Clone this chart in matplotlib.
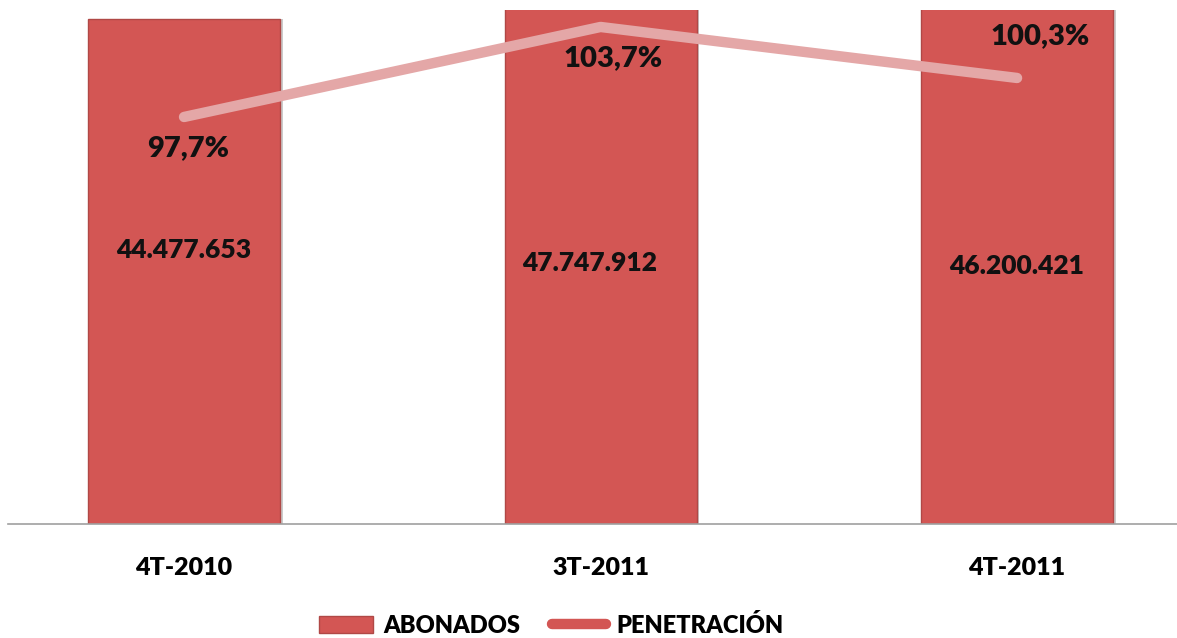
import numpy as np
import matplotlib.pyplot as plt
from matplotlib.patches import Patch
from matplotlib.lines import Line2D

plt.rcParams['font.family'] = ['Lato', 'DejaVu Sans']

# Data
periods = ['4T-2010', '3T-2011', '4T-2011']
abonados = [44477653, 47747912, 46200421]
penetracion = [97.7, 103.7, 100.3]
abonados_labels = ['44.477.653', '47.747.912', '46.200.421']
penetracion_labels = ['97,7%', '103,7%', '100,3%']

bar_color = '#D35654'
line_color = '#E4A7A7'

fig = plt.figure(figsize=(11.77, 6.38), dpi=100)
ax = fig.add_axes([0.0068, 0.1787, 0.9932, 0.8056])

x = np.arange(len(periods))
# soft shadow behind the bars
ax.bar(x + 0.006, abonados, width=0.461, color='#999999', alpha=0.5, zorder=1)
bars = ax.bar(x, abonados, width=0.461, color=bar_color, edgecolor='#B04846',
              linewidth=1.0, zorder=2)

ax.set_xlim(-0.4226, 2.384)
ax.set_ylim(0, 45.27e6)

# value labels inside the bars
label_y = [24.1e6, 23.0e6, 22.7e6]
label_dx = [0.0, -0.027, 0.0]
for xi, lab, ly, dx in zip(x, abonados_labels, label_y, label_dx):
    ax.text(xi + dx, ly, lab, ha='center', va='center', fontsize=19,
            fontweight='heavy', color='#111111', zorder=5)

for s in ['top', 'right', 'left']:
    ax.spines[s].set_visible(False)
ax.spines['bottom'].set_color('#A0A0A0')
ax.spines['bottom'].set_linewidth(1.2)
ax.set_yticks([])
ax.set_xticks(x)
ax.set_xticklabels(periods, fontsize=18, fontweight='heavy')
ax.tick_params(axis='x', length=0, pad=24)

# secondary axis for penetration line
ax2 = ax.twinx()
ax2.set_ylim(70.57, 104.83)
ax2.plot(x, penetracion, color=line_color, linewidth=7.5, solid_capstyle='round',
         zorder=3)
ax2.set_yticks([])
for s in ax2.spines.values():
    s.set_visible(False)

offsets = [(0.01, -2.07), (0.029, -2.07), (0.055, 2.8)]
for xi, v, lab, (dx, dy) in zip(x, penetracion, penetracion_labels, offsets):
    ax2.text(xi + dx, v + dy, lab, ha='center', va='center', fontsize=21,
             fontweight='heavy', color='#111111', zorder=6)

handles = [Patch(facecolor=bar_color, edgecolor='#B04846'),
           Line2D([0], [0], color=bar_color, linewidth=7.5, solid_capstyle='round')]
fig.legend(handles, ['ABONADOS', 'PENETRACIÓN'], loc='center',
           bbox_to_anchor=(0.468, 0.02), ncol=2, frameon=False,
           prop={'size': 17, 'weight': 'heavy'}, handlelength=2.3,
           handletextpad=0.42, columnspacing=1.35)

fig.savefig('out.png', dpi=100)
